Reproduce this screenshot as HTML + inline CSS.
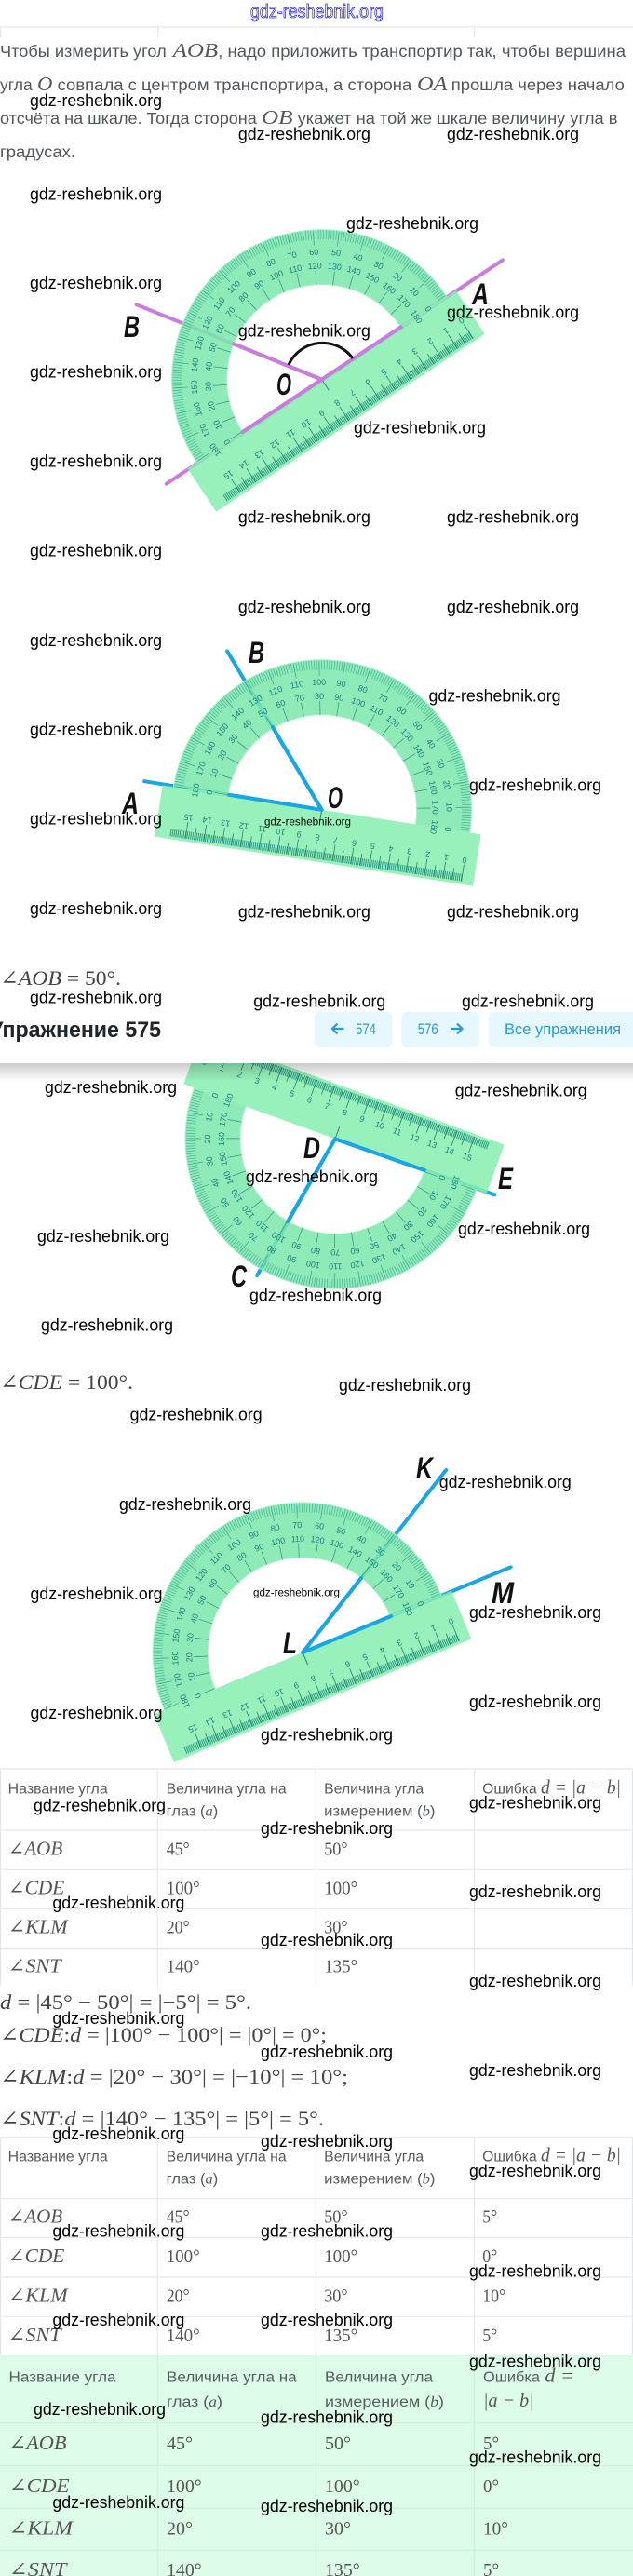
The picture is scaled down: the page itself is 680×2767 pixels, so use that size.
<!DOCTYPE html>
<html lang="ru"><head><meta charset="utf-8"><title>Упражнение 575</title>
<style>
html,body{margin:0;padding:0;background:#fff}
svg{display:block}
text{font-family:"Liberation Sans","DejaVu Sans",sans-serif}
.w{font-size:18px;fill:#000}
.w2{font-size:12px;fill:#000}
.t{font-size:17.5px;fill:#50565b}
.m{font-family:"Liberation Serif","DejaVu Serif",serif;font-size:21px;fill:#555;font-style:italic}
.n{font-family:"Liberation Serif","DejaVu Serif",serif;font-size:20px;fill:#555}
.s{font-size:15.5px;fill:#555b60}
.e{font-family:"Liberation Serif","DejaVu Serif",serif;font-size:22px;fill:#444}
.i{font-style:italic}
.L{font-size:32px;font-weight:bold;font-style:italic;fill:#111}
.pl text{font-size:9px;fill:#1a7f80;text-anchor:middle}
.ray{fill:none;stroke-width:4;stroke-linecap:round}
.b{font-size:16.5px;fill:#2c9ac6}
</style></head><body>
<svg xmlns="http://www.w3.org/2000/svg" width="680" height="2767" viewBox="0 0 680 2767">
<defs>
<clipPath id="up"><rect x="-175" y="-175" width="350" height="175"/></clipPath>
<linearGradient id="sh" x1="0" y1="0" x2="0" y2="1"><stop offset="0" stop-color="#000" stop-opacity=".2"/><stop offset="1" stop-color="#000" stop-opacity="0"/></linearGradient>
<g id="p" class="pl">
<path d="M-161 0A161 161 0 0 1 161 0L102 0A102 102 0 0 0 -102 0Z" fill="#7ae8aa" fill-opacity=".85" stroke="#aef0cd" stroke-width="1"/>
<g clip-path="url(#up)" fill="none">
<circle r="155.5" stroke="#48b39c" stroke-width="10" stroke-dasharray=".7 2.0139"/>
<circle r="151" stroke="#3f9f8e" stroke-width="14" stroke-dasharray=".7 25.65"/>
<circle r="109.5" stroke="#3a8a78" stroke-width="15" stroke-dasharray=".7 18.41"/>
</g>
<rect x="-173" y="0" width="346" height="56" fill="#86eeaf" fill-opacity=".85"/>
<line x1="-157" x2="161" y1="49" y2="49" stroke="#2c9a86" stroke-width="8" stroke-dasharray="1 1"/>
<line x1="-140.4" x2="160.8" y1="44" y2="44" stroke="#2b7f70" stroke-width="18" stroke-dasharray=".8 19.2"/>
<line x1="-130.4" x2="150.8" y1="46.5" y2="46.5" stroke="#2b7f70" stroke-width="13" stroke-dasharray=".8 19.2"/>
<line x1="0" x2="0" y1="1" y2="14" stroke="#2f7f6e" stroke-width="1"/>
<text transform="rotate(90) translate(0,-134)">0</text><text transform="rotate(80) translate(0,-134)">10</text><text transform="rotate(70) translate(0,-134)">20</text><text transform="rotate(60) translate(0,-134)">30</text><text transform="rotate(50) translate(0,-134)">40</text><text transform="rotate(40) translate(0,-134)">50</text><text transform="rotate(30) translate(0,-134)">60</text><text transform="rotate(20) translate(0,-134)">70</text><text transform="rotate(10) translate(0,-134)">80</text><text transform="translate(0,-134)">90</text><text transform="rotate(-10) translate(0,-134)">100</text><text transform="rotate(-20) translate(0,-134)">110</text><text transform="rotate(-30) translate(0,-134)">120</text><text transform="rotate(-40) translate(0,-134)">130</text><text transform="rotate(-50) translate(0,-134)">140</text><text transform="rotate(-60) translate(0,-134)">150</text><text transform="rotate(-70) translate(0,-134)">160</text><text transform="rotate(-80) translate(0,-134)">170</text><text transform="rotate(-90) translate(0,-134)">180</text>
<text transform="rotate(-90) translate(0,-119)">0</text><text transform="rotate(-80) translate(0,-119)">10</text><text transform="rotate(-70) translate(0,-119)">20</text><text transform="rotate(-60) translate(0,-119)">30</text><text transform="rotate(-50) translate(0,-119)">40</text><text transform="rotate(-40) translate(0,-119)">50</text><text transform="rotate(-30) translate(0,-119)">60</text><text transform="rotate(-20) translate(0,-119)">70</text><text transform="rotate(-10) translate(0,-119)">80</text><text transform="translate(0,-119)">90</text><text transform="rotate(10) translate(0,-119)">100</text><text transform="rotate(20) translate(0,-119)">110</text><text transform="rotate(30) translate(0,-119)">120</text><text transform="rotate(40) translate(0,-119)">130</text><text transform="rotate(50) translate(0,-119)">140</text><text transform="rotate(60) translate(0,-119)">150</text><text transform="rotate(70) translate(0,-119)">160</text><text transform="rotate(80) translate(0,-119)">170</text><text transform="rotate(90) translate(0,-119)">180</text>
<text transform="translate(160,27) rotate(180)">0</text><text transform="translate(140,27) rotate(180)">1</text><text transform="translate(120,27) rotate(180)">2</text><text transform="translate(100,27) rotate(180)">3</text><text transform="translate(80,27) rotate(180)">4</text><text transform="translate(60,27) rotate(180)">5</text><text transform="translate(40,27) rotate(180)">6</text><text transform="translate(20,27) rotate(180)">7</text><text transform="translate(0,27) rotate(180)">8</text><text transform="translate(-20,27) rotate(180)">9</text><text transform="translate(-40,27) rotate(180)">10</text><text transform="translate(-60,27) rotate(180)">11</text><text transform="translate(-80,27) rotate(180)">12</text><text transform="translate(-100,27) rotate(180)">13</text><text transform="translate(-120,27) rotate(180)">14</text><text transform="translate(-140,27) rotate(180)">15</text>
</g>
</defs>

<!-- top -->
<text x="269" y="19" font-size="20" fill="#fff" stroke="#2a2ad0" stroke-width=".8" textLength="143" lengthAdjust="spacingAndGlyphs">gdz-reshebnik.org</text>
<g stroke="#e6e8eb" stroke-width="1.2"><line x1="0" x2="680" y1="29" y2="29"/><line x1=".6" x2=".6" y1="29" y2="40"/><line x1="169.6" x2="169.6" y1="29" y2="40"/><line x1="339.6" x2="339.6" y1="29" y2="40"/><line x1="509.6" x2="509.6" y1="29" y2="40"/></g>

<!-- paragraph -->
<text class="t" x="0" y="61" textLength="178.7" lengthAdjust="spacingAndGlyphs">Чтобы измерить угол</text>
<text class="m" x="185.6" y="61" textLength="48.6" lengthAdjust="spacingAndGlyphs">AOB</text>
<text class="t" x="234.2" y="61" textLength="437.8" lengthAdjust="spacingAndGlyphs">, надо приложить транспортир так, чтобы вершина</text>
<text class="t" x="0" y="97" textLength="34.7" lengthAdjust="spacingAndGlyphs">угла</text>
<text class="m" x="40" y="97" textLength="16.4" lengthAdjust="spacingAndGlyphs">O</text>
<text class="t" x="61.6" y="97" textLength="380.7" lengthAdjust="spacingAndGlyphs">совпала с центром транспортира, а сторона</text>
<text class="m" x="448" y="97" textLength="32.5" lengthAdjust="spacingAndGlyphs">OA</text>
<text class="t" x="484.8" y="97" textLength="186.1" lengthAdjust="spacingAndGlyphs">прошла через начало</text>
<text class="t" x="0" y="133" textLength="275.8" lengthAdjust="spacingAndGlyphs">отсчёта на шкале. Тогда сторона</text>
<text class="m" x="281" y="133" textLength="33.4" lengthAdjust="spacingAndGlyphs">OB</text>
<text class="t" x="319.6" y="133" textLength="343.9" lengthAdjust="spacingAndGlyphs">укажет на той же шкале величину угла в</text>
<text class="t" x="0" y="169" textLength="81" lengthAdjust="spacingAndGlyphs">градусах.</text>

<!-- protractor 1 -->
<g class="ray" stroke="#c87ddd">
<line x1="539.9" y1="279.4" x2="178.7" y2="519.7"/>
<line x1="345.6" y1="407.6" x2="146.6" y2="327.2"/>
</g>
<use href="#p" transform="translate(345.6,407.6) rotate(-33.5)"/>
<g class="ray" stroke="#c87ddd">
<line x1="345.6" y1="407.6" x2="260.6" y2="463.9"/>
<line x1="345.6" y1="407.6" x2="430.6" y2="351.3"/>
<line x1="345.6" y1="407.6" x2="251" y2="369.4"/>
</g>
<path d="M310 392 A40 40 0 0 1 379 385" fill="none" stroke="#111" stroke-width="3"/>
<text class="L" x="133" y="362" textLength="17" lengthAdjust="spacingAndGlyphs">B</text>
<text class="L" x="507" y="327" textLength="18" lengthAdjust="spacingAndGlyphs">A</text>
<text class="L" x="297" y="424" textLength="16" lengthAdjust="spacingAndGlyphs">O</text>

<!-- protractor 2 -->
<g class="ray" stroke="#1aa5e3">
<line x1="345.6" y1="869.8" x2="155.2" y2="839.2"/>
<line x1="345.6" y1="869.8" x2="244.1" y2="699.5"/>
</g>
<use href="#p" transform="translate(345.6,869.8) rotate(8.8)"/>
<g class="ray" stroke="#1aa5e3">
<line x1="345.6" y1="869.8" x2="246" y2="853.8"/>
<line x1="345.6" y1="869.8" x2="293" y2="781"/>
</g>
<text class="L" x="267" y="712" textLength="17" lengthAdjust="spacingAndGlyphs">B</text>
<text class="L" x="131" y="874" textLength="18" lengthAdjust="spacingAndGlyphs">A</text>
<text class="L" x="352" y="868" textLength="16" lengthAdjust="spacingAndGlyphs">O</text>

<text class="e" x="0" y="1058" textLength="130" lengthAdjust="spacingAndGlyphs">∠<tspan class="i">AOB</tspan> = 50°.</text>

<!-- protractor 3 -->
<g class="ray" stroke="#1aa5e3">
<line x1="360" y1="1223.3" x2="531.2" y2="1283.3"/>
<line x1="360" y1="1223.3" x2="276.2" y2="1370"/>
</g>
<use href="#p" transform="translate(360,1223.3) rotate(199.9)"/>
<g class="ray" stroke="#1aa5e3">
<line x1="360" y1="1223.3" x2="456" y2="1257"/>
<line x1="360" y1="1223.3" x2="309" y2="1312"/>
</g>
<text class="L" x="326" y="1244" textLength="18" lengthAdjust="spacingAndGlyphs">D</text>
<text class="L" x="535" y="1277" textLength="16" lengthAdjust="spacingAndGlyphs">E</text>
<text class="L" x="248" y="1382" textLength="17" lengthAdjust="spacingAndGlyphs">C</text>
<text class="e" x="0" y="1492" textLength="143" lengthAdjust="spacingAndGlyphs">∠<tspan class="i">CDE</tspan> = 100°.</text>

<!-- sticky header -->
<rect x="0" y="1070" width="680" height="72" fill="#fff"/>
<rect x="0" y="1142" width="680" height="20" fill="url(#sh)"/>
<text x="-11" y="1114" font-size="24" font-weight="bold" fill="#20252a" textLength="184" lengthAdjust="spacingAndGlyphs">Упражнение 575</text>
<rect x="338" y="1087" width="83.5" height="38" rx="5" fill="#e6f8fe"/>
<rect x="431.5" y="1087" width="83.5" height="38" rx="5" fill="#e6f8fe"/>
<rect x="524.7" y="1087" width="160" height="38" rx="5" fill="#e6f8fe"/>
<path d="M369.5 1105H357M362.5 1099.5L357 1105L362.5 1110.5M484 1105H496.5M491 1099.5L496.5 1105L491 1110.5" fill="none" stroke="#2c9ac6" stroke-width="2.2"/>
<text class="b" x="382" y="1111" textLength="22" lengthAdjust="spacingAndGlyphs">574</text>
<text class="b" x="448.7" y="1111" textLength="22" lengthAdjust="spacingAndGlyphs">576</text>
<text class="b" x="542" y="1111" textLength="125" lengthAdjust="spacingAndGlyphs">Все упражнения</text>

<!-- protractor 4 -->
<g class="ray" stroke="#1aa5e3">
<line x1="325.2" y1="1775" x2="479.2" y2="1579"/>
<line x1="325.2" y1="1775" x2="548.6" y2="1683.3"/>
</g>
<use href="#p" transform="translate(325.2,1775) rotate(-22.5)"/>
<g class="ray" stroke="#1aa5e3">
<line x1="325.2" y1="1775" x2="388" y2="1695"/>
<line x1="325.2" y1="1775" x2="420" y2="1736"/>
</g>
<text class="L" x="447" y="1588" textLength="18" lengthAdjust="spacingAndGlyphs">K</text>
<text class="L" x="528" y="1722" textLength="24" lengthAdjust="spacingAndGlyphs">M</text>
<text class="L" x="304" y="1776" textLength="15" lengthAdjust="spacingAndGlyphs">L</text>

<!-- table 1 -->
<g stroke="#e6e8eb" stroke-width="1.2">
<line x1="0" x2="680" y1="1900" y2="1900"/><line x1="0" x2="680" y1="1966" y2="1966"/><line x1="0" x2="680" y1="2008.3" y2="2008.3"/><line x1="0" x2="680" y1="2050.3" y2="2050.3"/><line x1="0" x2="680" y1="2092.3" y2="2092.3"/>
<line x1=".6" x2=".6" y1="1900" y2="2133"/><line x1="169.2" x2="169.2" y1="1900" y2="2133"/><line x1="339.2" x2="339.2" y1="1900" y2="2133"/><line x1="509.5" x2="509.5" y1="1900" y2="2133"/><line x1="679.4" x2="679.4" y1="1900" y2="2133"/>
</g>
<text class="s" x="8.7" y="1926.7" textLength="107" lengthAdjust="spacingAndGlyphs">Название угла</text>
<text class="s" x="178.7" y="1926.7" textLength="129" lengthAdjust="spacingAndGlyphs">Величина угла на</text>
<text class="s" x="178.7" y="1950.7" textLength="55.5" lengthAdjust="spacingAndGlyphs">глаз (<tspan font-family="Liberation Serif" font-style="italic">a</tspan>)</text>
<text class="s" x="348.2" y="1926.7" textLength="107" lengthAdjust="spacingAndGlyphs">Величина угла</text>
<text class="s" x="348.2" y="1950.7" textLength="119.3" lengthAdjust="spacingAndGlyphs">измерением (<tspan font-family="Liberation Serif" font-style="italic">b</tspan>)</text>
<text class="s" x="518.2" y="1926.7" textLength="58.5" lengthAdjust="spacingAndGlyphs">Ошибка</text>
<text class="m" x="581" y="1926.7" font-size="19" textLength="86" lengthAdjust="spacingAndGlyphs">d = |a − b|</text>

<text class="m" x="8.7" y="1992.5" textLength="58.5" lengthAdjust="spacingAndGlyphs">∠AOB</text>
<text class="n" x="178.7" y="1992.5" textLength="25" lengthAdjust="spacingAndGlyphs">45°</text>
<text class="n" x="348.2" y="1992.5" textLength="25.5" lengthAdjust="spacingAndGlyphs">50°</text>
<text class="m" x="8.7" y="2034.5" textLength="60.7" lengthAdjust="spacingAndGlyphs">∠CDE</text>
<text class="n" x="178.7" y="2034.5" textLength="36" lengthAdjust="spacingAndGlyphs">100°</text>
<text class="n" x="348.2" y="2034.5" textLength="36" lengthAdjust="spacingAndGlyphs">100°</text>
<text class="m" x="8.7" y="2076.5" textLength="64" lengthAdjust="spacingAndGlyphs">∠KLM</text>
<text class="n" x="178.7" y="2076.5" textLength="25" lengthAdjust="spacingAndGlyphs">20°</text>
<text class="n" x="348.2" y="2076.5" textLength="25.5" lengthAdjust="spacingAndGlyphs">30°</text>
<text class="m" x="8.7" y="2118.5" textLength="57" lengthAdjust="spacingAndGlyphs">∠SNT</text>
<text class="n" x="178.7" y="2118.5" textLength="36" lengthAdjust="spacingAndGlyphs">140°</text>
<text class="n" x="348.2" y="2118.5" textLength="36" lengthAdjust="spacingAndGlyphs">135°</text>

<!-- equations -->
<text class="e" x="0" y="2158" textLength="270" lengthAdjust="spacingAndGlyphs"><tspan class="i">d</tspan> = |45° − 50°| = |−5°| = 5°.</text>
<text class="e" x="0" y="2193" textLength="351" lengthAdjust="spacingAndGlyphs">∠<tspan class="i">CDE</tspan>:<tspan class="i">d</tspan> = |100° − 100°| = |0°| = 0°;</text>
<text class="e" x="0" y="2238" textLength="374" lengthAdjust="spacingAndGlyphs">∠<tspan class="i">KLM</tspan>:<tspan class="i">d</tspan> = |20° − 30°| = |−10°| = 10°;</text>
<text class="e" x="0" y="2283" textLength="348" lengthAdjust="spacingAndGlyphs">∠<tspan class="i">SNT</tspan>:<tspan class="i">d</tspan> = |140° − 135°| = |5°| = 5°.</text>

<!-- table 2 -->
<g stroke="#e6e8eb" stroke-width="1.2">
<line x1="0" x2="680" y1="2295.7" y2="2295.7"/><line x1="0" x2="680" y1="2361.7" y2="2361.7"/><line x1="0" x2="680" y1="2403.3" y2="2403.3"/><line x1="0" x2="680" y1="2446" y2="2446"/><line x1="0" x2="680" y1="2488.3" y2="2488.3"/>
<line x1=".6" x2=".6" y1="2295.7" y2="2530"/><line x1="169.2" x2="169.2" y1="2295.7" y2="2530"/><line x1="339.2" x2="339.2" y1="2295.7" y2="2530"/><line x1="509.5" x2="509.5" y1="2295.7" y2="2530"/><line x1="679.4" x2="679.4" y1="2295.7" y2="2530"/>
</g>
<text class="s" x="8.7" y="2321.7" textLength="107" lengthAdjust="spacingAndGlyphs">Название угла</text>
<text class="s" x="178.7" y="2321.7" textLength="129" lengthAdjust="spacingAndGlyphs">Величина угла на</text>
<text class="s" x="178.7" y="2345.7" textLength="55.5" lengthAdjust="spacingAndGlyphs">глаз (<tspan font-family="Liberation Serif" font-style="italic">a</tspan>)</text>
<text class="s" x="348.2" y="2321.7" textLength="107" lengthAdjust="spacingAndGlyphs">Величина угла</text>
<text class="s" x="348.2" y="2345.7" textLength="119.3" lengthAdjust="spacingAndGlyphs">измерением (<tspan font-family="Liberation Serif" font-style="italic">b</tspan>)</text>
<text class="s" x="518.2" y="2321.7" textLength="58.5" lengthAdjust="spacingAndGlyphs">Ошибка</text>
<text class="m" x="581" y="2321.7" font-size="19" textLength="86" lengthAdjust="spacingAndGlyphs">d = |a − b|</text>

<text class="m" x="8.7" y="2387.5" textLength="58.5" lengthAdjust="spacingAndGlyphs">∠AOB</text>
<text class="n" x="178.7" y="2387.5" textLength="25" lengthAdjust="spacingAndGlyphs">45°</text>
<text class="n" x="348.2" y="2387.5" textLength="25.5" lengthAdjust="spacingAndGlyphs">50°</text>
<text class="n" x="518.2" y="2387.5" textLength="16" lengthAdjust="spacingAndGlyphs">5°</text>
<text class="m" x="8.7" y="2429.8" textLength="60.7" lengthAdjust="spacingAndGlyphs">∠CDE</text>
<text class="n" x="178.7" y="2429.8" textLength="36" lengthAdjust="spacingAndGlyphs">100°</text>
<text class="n" x="348.2" y="2429.8" textLength="36" lengthAdjust="spacingAndGlyphs">100°</text>
<text class="n" x="518.2" y="2429.8" textLength="16" lengthAdjust="spacingAndGlyphs">0°</text>
<text class="m" x="8.7" y="2472.5" textLength="64" lengthAdjust="spacingAndGlyphs">∠KLM</text>
<text class="n" x="178.7" y="2472.5" textLength="25" lengthAdjust="spacingAndGlyphs">20°</text>
<text class="n" x="348.2" y="2472.5" textLength="25.5" lengthAdjust="spacingAndGlyphs">30°</text>
<text class="n" x="518.2" y="2472.5" textLength="25" lengthAdjust="spacingAndGlyphs">10°</text>
<text class="m" x="8.7" y="2514.8" textLength="57" lengthAdjust="spacingAndGlyphs">∠SNT</text>
<text class="n" x="178.7" y="2514.8" textLength="36" lengthAdjust="spacingAndGlyphs">140°</text>
<text class="n" x="348.2" y="2514.8" textLength="36" lengthAdjust="spacingAndGlyphs">135°</text>
<text class="n" x="518.2" y="2514.8" textLength="16" lengthAdjust="spacingAndGlyphs">5°</text>

<!-- table 3 -->
<rect x="0" y="2530" width="680" height="237" fill="#dcfce9"/>
<g stroke="#cdf0dc" stroke-width="1.2">
<line x1="0" x2="680" y1="2602.7" y2="2602.7"/><line x1="0" x2="680" y1="2648.3" y2="2648.3"/><line x1="0" x2="680" y1="2694" y2="2694"/><line x1="0" x2="680" y1="2739.3" y2="2739.3"/>
<line x1="169.2" x2="169.2" y1="2530" y2="2767"/><line x1="339.2" x2="339.2" y1="2530" y2="2767"/><line x1="509.5" x2="509.5" y1="2530" y2="2767"/>
</g>
<text class="s" x="9.5" y="2558.3" font-size="16.5" textLength="115" lengthAdjust="spacingAndGlyphs">Название угла</text>
<text class="s" x="179" y="2558.3" font-size="16.5" textLength="139.7" lengthAdjust="spacingAndGlyphs">Величина угла на</text>
<text class="s" x="179" y="2585" font-size="16.5" textLength="60" lengthAdjust="spacingAndGlyphs">глаз (<tspan font-family="Liberation Serif" font-style="italic">a</tspan>)</text>
<text class="s" x="349" y="2558.3" font-size="16.5" textLength="116" lengthAdjust="spacingAndGlyphs">Величина угла</text>
<text class="s" x="349" y="2585" font-size="16.5" textLength="128" lengthAdjust="spacingAndGlyphs">измерением (<tspan font-family="Liberation Serif" font-style="italic">b</tspan>)</text>
<text class="s" x="519" y="2558.3" font-size="16.5" textLength="61" lengthAdjust="spacingAndGlyphs">Ошибка</text>
<text class="m" x="585.4" y="2558.3" font-size="20" textLength="31.6" lengthAdjust="spacingAndGlyphs">d =</text>
<text class="m" x="519" y="2585" font-size="20" textLength="54.7" lengthAdjust="spacingAndGlyphs">|a − b|</text>

<text class="m" x="9.5" y="2631" font-size="22" textLength="62" lengthAdjust="spacingAndGlyphs">∠AOB</text>
<text class="n" x="179" y="2631" font-size="21" textLength="28" lengthAdjust="spacingAndGlyphs">45°</text>
<text class="n" x="349" y="2631" font-size="21" textLength="28" lengthAdjust="spacingAndGlyphs">50°</text>
<text class="n" x="519" y="2631" font-size="21" textLength="17" lengthAdjust="spacingAndGlyphs">5°</text>
<text class="m" x="9.5" y="2677" font-size="22" textLength="65" lengthAdjust="spacingAndGlyphs">∠CDE</text>
<text class="n" x="179" y="2677" font-size="21" textLength="37.7" lengthAdjust="spacingAndGlyphs">100°</text>
<text class="n" x="349" y="2677" font-size="21" textLength="37.7" lengthAdjust="spacingAndGlyphs">100°</text>
<text class="n" x="519" y="2677" font-size="21" textLength="17" lengthAdjust="spacingAndGlyphs">0°</text>
<text class="m" x="9.5" y="2722.3" font-size="22" textLength="68.5" lengthAdjust="spacingAndGlyphs">∠KLM</text>
<text class="n" x="179" y="2722.3" font-size="21" textLength="28" lengthAdjust="spacingAndGlyphs">20°</text>
<text class="n" x="349" y="2722.3" font-size="21" textLength="28" lengthAdjust="spacingAndGlyphs">30°</text>
<text class="n" x="519" y="2722.3" font-size="21" textLength="27" lengthAdjust="spacingAndGlyphs">10°</text>
<text class="m" x="9.5" y="2767" font-size="22" textLength="62" lengthAdjust="spacingAndGlyphs">∠SNT</text>
<text class="n" x="179" y="2767" font-size="21" textLength="37.7" lengthAdjust="spacingAndGlyphs">140°</text>
<text class="n" x="349" y="2767" font-size="21" textLength="37.7" lengthAdjust="spacingAndGlyphs">135°</text>
<text class="n" x="519" y="2767" font-size="21" textLength="17" lengthAdjust="spacingAndGlyphs">5°</text>

<!-- watermarks -->
<g>
<text x="32" y="114" class="w" textLength="142" lengthAdjust="spacingAndGlyphs">gdz-reshebnik.org</text>
<text x="255.9" y="150" class="w" textLength="142" lengthAdjust="spacingAndGlyphs">gdz-reshebnik.org</text>
<text x="480" y="150" class="w" textLength="142" lengthAdjust="spacingAndGlyphs">gdz-reshebnik.org</text>
<text x="32" y="214.3" class="w" textLength="142" lengthAdjust="spacingAndGlyphs">gdz-reshebnik.org</text>
<text x="372" y="246" class="w" textLength="142" lengthAdjust="spacingAndGlyphs">gdz-reshebnik.org</text>
<text x="32" y="310" class="w" textLength="142" lengthAdjust="spacingAndGlyphs">gdz-reshebnik.org</text>
<text x="480" y="341.7" class="w" textLength="142" lengthAdjust="spacingAndGlyphs">gdz-reshebnik.org</text>
<text x="255.9" y="361.6" class="w" textLength="142" lengthAdjust="spacingAndGlyphs">gdz-reshebnik.org</text>
<text x="32" y="405.7" class="w" textLength="142" lengthAdjust="spacingAndGlyphs">gdz-reshebnik.org</text>
<text x="380" y="465.7" class="w" textLength="142" lengthAdjust="spacingAndGlyphs">gdz-reshebnik.org</text>
<text x="32" y="501.7" class="w" textLength="142" lengthAdjust="spacingAndGlyphs">gdz-reshebnik.org</text>
<text x="255.9" y="561.7" class="w" textLength="142" lengthAdjust="spacingAndGlyphs">gdz-reshebnik.org</text>
<text x="480" y="561.7" class="w" textLength="142" lengthAdjust="spacingAndGlyphs">gdz-reshebnik.org</text>
<text x="32" y="597.7" class="w" textLength="142" lengthAdjust="spacingAndGlyphs">gdz-reshebnik.org</text>
<text x="255.9" y="658" class="w" textLength="142" lengthAdjust="spacingAndGlyphs">gdz-reshebnik.org</text>
<text x="480" y="658" class="w" textLength="142" lengthAdjust="spacingAndGlyphs">gdz-reshebnik.org</text>
<text x="32" y="694" class="w" textLength="142" lengthAdjust="spacingAndGlyphs">gdz-reshebnik.org</text>
<text x="32" y="789.7" class="w" textLength="142" lengthAdjust="spacingAndGlyphs">gdz-reshebnik.org</text>
<text x="460.5" y="753.7" class="w" textLength="142" lengthAdjust="spacingAndGlyphs">gdz-reshebnik.org</text>
<text x="504" y="849.5" class="w" textLength="142" lengthAdjust="spacingAndGlyphs">gdz-reshebnik.org</text>
<text x="32" y="885.7" class="w" textLength="142" lengthAdjust="spacingAndGlyphs">gdz-reshebnik.org</text>
<text x="284" y="886.4" class="w2" textLength="93" lengthAdjust="spacingAndGlyphs">gdz-reshebnik.org</text>
<text x="32" y="982" class="w" textLength="142" lengthAdjust="spacingAndGlyphs">gdz-reshebnik.org</text>
<text x="255.9" y="985.7" class="w" textLength="142" lengthAdjust="spacingAndGlyphs">gdz-reshebnik.org</text>
<text x="480" y="985.7" class="w" textLength="142" lengthAdjust="spacingAndGlyphs">gdz-reshebnik.org</text>
<text x="32" y="1077.6" class="w" textLength="142" lengthAdjust="spacingAndGlyphs">gdz-reshebnik.org</text>
<text x="272.3" y="1081.7" class="w" textLength="142" lengthAdjust="spacingAndGlyphs">gdz-reshebnik.org</text>
<text x="496" y="1081.7" class="w" textLength="142" lengthAdjust="spacingAndGlyphs">gdz-reshebnik.org</text>
<text x="48" y="1174" class="w" textLength="142" lengthAdjust="spacingAndGlyphs">gdz-reshebnik.org</text>
<text x="488.7" y="1177.7" class="w" textLength="142" lengthAdjust="spacingAndGlyphs">gdz-reshebnik.org</text>
<text x="264" y="1270" class="w" textLength="142" lengthAdjust="spacingAndGlyphs">gdz-reshebnik.org</text>
<text x="40" y="1334" class="w" textLength="142" lengthAdjust="spacingAndGlyphs">gdz-reshebnik.org</text>
<text x="492" y="1326" class="w" textLength="142" lengthAdjust="spacingAndGlyphs">gdz-reshebnik.org</text>
<text x="268" y="1397.7" class="w" textLength="142" lengthAdjust="spacingAndGlyphs">gdz-reshebnik.org</text>
<text x="44" y="1429.7" class="w" textLength="142" lengthAdjust="spacingAndGlyphs">gdz-reshebnik.org</text>
<text x="364" y="1494" class="w" textLength="142" lengthAdjust="spacingAndGlyphs">gdz-reshebnik.org</text>
<text x="139.6" y="1525.7" class="w" textLength="142" lengthAdjust="spacingAndGlyphs">gdz-reshebnik.org</text>
<text x="471.8" y="1598" class="w" textLength="142" lengthAdjust="spacingAndGlyphs">gdz-reshebnik.org</text>
<text x="128" y="1622" class="w" textLength="142" lengthAdjust="spacingAndGlyphs">gdz-reshebnik.org</text>
<text x="32.5" y="1718" class="w" textLength="142" lengthAdjust="spacingAndGlyphs">gdz-reshebnik.org</text>
<text x="272" y="1714.7" class="w2" textLength="93" lengthAdjust="spacingAndGlyphs">gdz-reshebnik.org</text>
<text x="504" y="1738" class="w" textLength="142" lengthAdjust="spacingAndGlyphs">gdz-reshebnik.org</text>
<text x="504" y="1834" class="w" textLength="142" lengthAdjust="spacingAndGlyphs">gdz-reshebnik.org</text>
<text x="32.5" y="1846" class="w" textLength="142" lengthAdjust="spacingAndGlyphs">gdz-reshebnik.org</text>
<text x="280" y="1869.7" class="w" textLength="142" lengthAdjust="spacingAndGlyphs">gdz-reshebnik.org</text>
<text x="504" y="1942.4" class="w" textLength="142" lengthAdjust="spacingAndGlyphs">gdz-reshebnik.org</text>
<text x="36" y="1945.7" class="w" textLength="142" lengthAdjust="spacingAndGlyphs">gdz-reshebnik.org</text>
<text x="280" y="1970" class="w" textLength="142" lengthAdjust="spacingAndGlyphs">gdz-reshebnik.org</text>
<text x="504" y="2038" class="w" textLength="142" lengthAdjust="spacingAndGlyphs">gdz-reshebnik.org</text>
<text x="56.4" y="2050" class="w" textLength="142" lengthAdjust="spacingAndGlyphs">gdz-reshebnik.org</text>
<text x="280" y="2090" class="w" textLength="142" lengthAdjust="spacingAndGlyphs">gdz-reshebnik.org</text>
<text x="504" y="2134" class="w" textLength="142" lengthAdjust="spacingAndGlyphs">gdz-reshebnik.org</text>
<text x="56.4" y="2174" class="w" textLength="142" lengthAdjust="spacingAndGlyphs">gdz-reshebnik.org</text>
<text x="280" y="2210" class="w" textLength="142" lengthAdjust="spacingAndGlyphs">gdz-reshebnik.org</text>
<text x="504" y="2230" class="w" textLength="142" lengthAdjust="spacingAndGlyphs">gdz-reshebnik.org</text>
<text x="56.4" y="2298" class="w" textLength="142" lengthAdjust="spacingAndGlyphs">gdz-reshebnik.org</text>
<text x="280" y="2306" class="w" textLength="142" lengthAdjust="spacingAndGlyphs">gdz-reshebnik.org</text>
<text x="504" y="2338" class="w" textLength="142" lengthAdjust="spacingAndGlyphs">gdz-reshebnik.org</text>
<text x="56.4" y="2402.4" class="w" textLength="142" lengthAdjust="spacingAndGlyphs">gdz-reshebnik.org</text>
<text x="280" y="2402.4" class="w" textLength="142" lengthAdjust="spacingAndGlyphs">gdz-reshebnik.org</text>
<text x="504" y="2445.7" class="w" textLength="142" lengthAdjust="spacingAndGlyphs">gdz-reshebnik.org</text>
<text x="56.4" y="2498" class="w" textLength="142" lengthAdjust="spacingAndGlyphs">gdz-reshebnik.org</text>
<text x="280" y="2498" class="w" textLength="142" lengthAdjust="spacingAndGlyphs">gdz-reshebnik.org</text>
<text x="504" y="2542.4" class="w" textLength="142" lengthAdjust="spacingAndGlyphs">gdz-reshebnik.org</text>
<text x="36" y="2594" class="w" textLength="142" lengthAdjust="spacingAndGlyphs">gdz-reshebnik.org</text>
<text x="280" y="2602.4" class="w" textLength="142" lengthAdjust="spacingAndGlyphs">gdz-reshebnik.org</text>
<text x="504" y="2645.7" class="w" textLength="142" lengthAdjust="spacingAndGlyphs">gdz-reshebnik.org</text>
<text x="56.4" y="2694" class="w" textLength="142" lengthAdjust="spacingAndGlyphs">gdz-reshebnik.org</text>
<text x="280" y="2698" class="w" textLength="142" lengthAdjust="spacingAndGlyphs">gdz-reshebnik.org</text>
</g>
</svg>
</body></html>
